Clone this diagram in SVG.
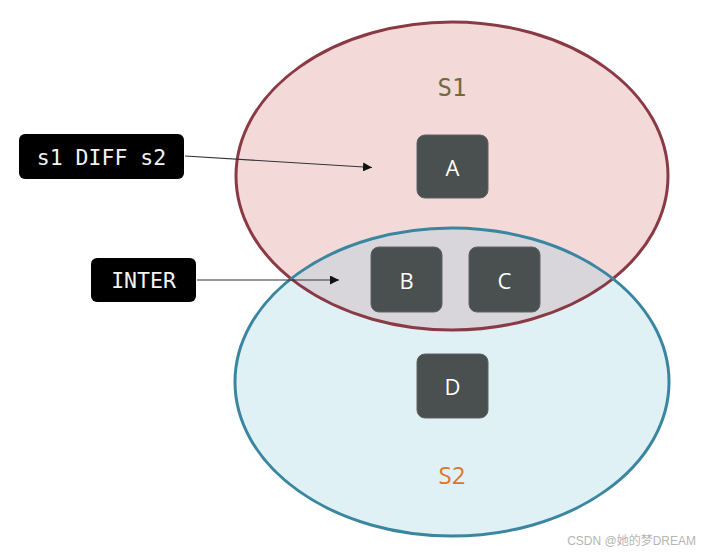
<svg xmlns="http://www.w3.org/2000/svg" width="711" height="553" viewBox="0 0 711 553">
<style>
.node{fill:#4a4f4f;stroke:#5d6262;stroke-width:1}
.nt{font-family:"Open Sans","Liberation Sans",sans-serif;font-size:22px;fill:#ffffff;text-anchor:middle;dominant-baseline:central}
.lbl{fill:#000000}
.lt{font-family:"DejaVu Sans Mono","Liberation Mono",monospace;font-size:21.5px;fill:#f4f4f4;text-anchor:middle;dominant-baseline:central}
.conn{stroke:#333333;stroke-width:1.2;fill:none;marker-end:url(#ah)}
</style>
<defs>
<marker id="ah" viewBox="0 0 10 10" refX="10" refY="5" markerWidth="9" markerHeight="9" markerUnits="userSpaceOnUse" orient="auto">
<path d="M0,0 L10,5 L0,10 z" fill="#111111"/>
</marker>
<clipPath id="c1"><ellipse cx="452" cy="176" rx="216" ry="154"/></clipPath>
</defs>
<rect width="711" height="553" fill="#ffffff"/>
<g id="sets">
<ellipse cx="452" cy="176" rx="216" ry="154" fill="#f4d9d9"/>
<ellipse cx="452" cy="382" rx="217" ry="154" fill="#e0f1f6"/>
<ellipse cx="452" cy="382" rx="217" ry="154" fill="#d9d6db" clip-path="url(#c1)"/>
<ellipse cx="452" cy="176" rx="216" ry="154" fill="none" stroke="#8a3a45" stroke-width="3"/>
<ellipse cx="452" cy="382" rx="217" ry="154" fill="none" stroke="#3a86a0" stroke-width="3"/>
<text x="452" y="88" font-family="DejaVu Sans Mono,Liberation Mono,monospace" font-size="24" fill="#6e6b3d" text-anchor="middle" dominant-baseline="central">S1</text>
<text x="452" y="474" font-family="Open Sans,Liberation Sans,sans-serif" font-size="24" fill="#d8772f" text-anchor="middle" dominant-baseline="central">S2</text>
</g>
<g id="nodeA"><rect class="node" x="417" y="135" width="71" height="63" rx="8"/><text class="nt" x="452.5" y="167">A</text></g>
<g id="nodeB"><rect class="node" x="371" y="247" width="71" height="65" rx="8"/><text class="nt" x="406.5" y="280">B</text></g>
<g id="nodeC"><rect class="node" x="469" y="247" width="71" height="65" rx="8"/><text class="nt" x="504.5" y="280">C</text></g>
<g id="nodeD"><rect class="node" x="417" y="354" width="71" height="64" rx="8"/><text class="nt" x="452.5" y="386">D</text></g>
<g id="labelDiff"><rect class="lbl" x="19" y="134" width="165" height="45" rx="6"/><text class="lt" x="101.5" y="157">s1 DIFF s2</text></g>
<g id="labelInter"><rect class="lbl" x="91" y="258" width="105" height="44" rx="6"/><text class="lt" x="143.5" y="280">INTER</text></g>
<g id="connectors">
<line class="conn" x1="185" y1="156" x2="372" y2="167.5"/>
<line class="conn" x1="197" y1="280" x2="339" y2="280"/>
</g>
<text x="696" y="541" font-family="Liberation Sans,Noto Sans CJK SC,sans-serif" font-size="12" fill="#b5b5b5" text-anchor="end" dominant-baseline="central">CSDN @她的梦DREAM</text>
</svg>
